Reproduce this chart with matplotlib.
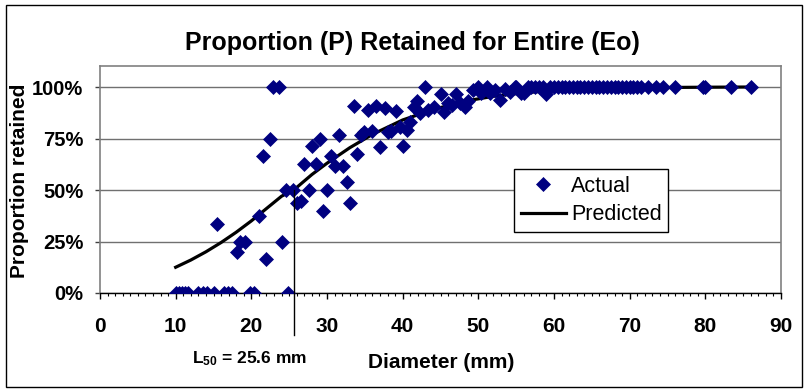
import numpy as np
import matplotlib
matplotlib.use("Agg")
import matplotlib.pyplot as plt
from matplotlib.patches import Rectangle

plt.rcParams["font.family"] = ["Liberation Sans", "DejaVu Sans"]
plt.rcParams["mathtext.fontset"] = "custom"
plt.rcParams["mathtext.bf"] = "Liberation Sans:bold"
plt.rcParams["mathtext.rm"] = "Liberation Sans"

# observed proportion retained per diameter class (mm)
actual_d = [10.0, 10.4, 10.8, 11.2, 11.6, 13.0, 13.6, 14.2, 15.0, 16.4, 16.9, 17.4,
            19.8, 20.4, 24.9,
            15.5, 18.1, 18.5, 19.2, 21.0, 22.0, 21.6, 22.5, 22.9, 23.6, 24.1, 24.6,
            25.5, 26.0, 26.6, 26.9, 27.6, 28.0, 28.6, 29.1, 29.5, 30.0, 30.5, 31.0,
            31.6, 32.1, 32.6, 33.0, 33.6, 34.0, 34.5, 34.9, 35.4, 36.0, 36.5, 37.0,
            37.6, 38.0, 38.5, 39.1, 39.6, 40.1, 40.6, 41.0, 41.5, 41.9, 42.3, 42.9,
            43.4, 44.1, 45.0, 45.4, 46.0, 46.5, 47.0, 47.6, 48.2, 48.7, 49.3, 50.0,
            50.4, 51.1, 51.5, 52.2, 52.8, 53.5, 54.2, 54.8, 55.7, 56.1, 58.9,
            55.0, 56.5, 57.0, 57.5, 58.0, 58.5, 59.5, 60.0, 60.5, 61.0, 61.5, 62.0,
            62.5, 63.0, 63.5, 64.0, 64.5, 65.0, 65.5, 66.0, 66.5, 67.0, 67.5, 68.0,
            68.5, 69.0, 69.5, 70.0, 70.5, 71.0, 71.5, 72.4, 73.5, 74.4, 76.0, 79.7,
            80.0, 83.4, 86.0]
actual_p = [0, 0, 0, 0, 0, 0, 0, 0, 0, 0, 0, 0,
            0, 0, 0,
            0.333, 0.20, 0.25, 0.25, 0.375, 0.167, 0.667, 0.75, 1.0, 1.0, 0.25, 0.5,
            0.5, 0.435, 0.447, 0.625, 0.5, 0.714, 0.625, 0.75, 0.40, 0.5, 0.667, 0.615,
            0.769, 0.615, 0.538, 0.435, 0.91, 0.676, 0.767, 0.78, 0.889, 0.786, 0.91, 0.707,
            0.90, 0.783, 0.786, 0.885, 0.807, 0.714, 0.79, 0.83, 0.905, 0.93, 0.872, 1.0,
            0.889, 0.905, 0.966, 0.877, 0.92, 0.913, 0.966, 0.92, 0.905, 0.93, 0.985, 1.0,
            0.97, 1.0, 0.97, 0.985, 0.937, 0.99, 0.975, 1.0, 0.97, 0.97, 0.965,
            1.0, 1.0, 1.0, 1.0, 1.0, 1.0, 1.0, 1.0, 1.0, 1.0, 1.0, 1.0,
            1.0, 1.0, 1.0, 1.0, 1.0, 1.0, 1.0, 1.0, 1.0, 1.0, 1.0, 1.0,
            1.0, 1.0, 1.0, 1.0, 1.0, 1.0, 1.0, 1.0, 1.0, 1.0, 1.0, 1.0,
            1.0, 1.0, 1.0]

# fitted selectivity curve
pred_d = [10, 12, 14, 16, 18, 20, 22, 24, 25.6, 28, 30, 33, 36, 40, 44, 48,
          52, 56, 60, 65, 70, 76, 80, 86]
pred_p = [0.125, 0.16, 0.20, 0.245, 0.295, 0.35, 0.41, 0.47, 0.50, 0.575, 0.63,
          0.705, 0.77, 0.84, 0.89, 0.93, 0.955, 0.972, 0.983, 0.991, 0.995, 0.998,
          0.999, 1.0]

L50 = 25.6

W, H = 807, 391
fig = plt.figure(figsize=(W / 100, H / 100), dpi=100)
ax = fig.add_axes([100 / W, 1 - 293 / H, 681 / W, 227 / H])

ax.plot(pred_d, pred_p, color="black", lw=2.3, zorder=2, label="Predicted")
ax.plot(actual_d, actual_p, linestyle="none", marker="D", ms=6.8,
        color="#000080", mec="#000080", mew=0.5, zorder=3, label="Actual")

# L50 marker line, running down past the axis
ax.plot([L50, L50], [0.5, -0.205], color="black", lw=1, clip_on=False, zorder=4)

ax.set_xlim(0, 90)
ax.set_ylim(0, 1.102)
ax.set_xticks(np.arange(0, 91, 10))
ax.set_xticklabels([str(v) for v in range(0, 91, 10)], fontsize=15, fontweight="bold")
ax.set_xticks(np.arange(0, 91, 1), minor=True)
ax.set_yticks([0, 0.25, 0.5, 0.75, 1.0])
ax.set_yticklabels(["0%", "25%", "50%", "75%", "100%"], fontsize=14.5, fontweight="bold")
ax.tick_params(axis="x", which="major", direction="out", length=4.5, width=1, pad=13)
ax.tick_params(axis="x", which="minor", direction="out", length=2.5, width=0.8)
ax.tick_params(axis="y", which="major", direction="out", length=3.6, width=1, pad=8.5,
               color="#404040")
ax.grid(axis="y", color="#707070", lw=1)
ax.set_axisbelow(True)

for side in ("top", "right", "left"):
    ax.spines[side].set_color("#808080")
    ax.spines[side].set_linewidth(1.2)
ax.spines["bottom"].set_color("black")
ax.spines["bottom"].set_linewidth(1)

handles, labels = ax.get_legend_handles_labels()
leg = ax.legend(handles[::-1], labels[::-1], loc="upper left",
                bbox_to_anchor=(0.608, 0.546), fontsize=15.5, frameon=True,
                fancybox=False, framealpha=1, edgecolor="black",
                borderaxespad=0, borderpad=0.3, handlelength=2.1,
                handletextpad=0.25, labelspacing=0.35)
leg.get_frame().set_linewidth(1)

fig.text(412 / W, 1 - 50 / H, "Proportion (P) Retained for Entire (Eo)",
         fontsize=18, fontweight="bold", ha="center", va="baseline")
fig.text(20 / W, 1 - 181 / H, "Proportion retained", fontsize=15,
         fontweight="bold", rotation=90, ha="center", va="center")
fig.text(441 / W, 1 - 362 / H, "Diameter (mm)", fontsize=15,
         fontweight="bold", ha="center", va="center")
fig.text(192 / W, 1 - 363 / H, r"$\mathbf{L_{50}}$ = 25.6 mm", fontsize=12.5,
         fontweight="bold", ha="left", va="baseline")

# outer chart border
fig.patches.append(Rectangle((6 / W, 1 - 387 / H), 796 / W, 382 / H,
                             transform=fig.transFigure, fill=False,
                             edgecolor="black", lw=1))

fig.savefig("out.png", dpi=100)
